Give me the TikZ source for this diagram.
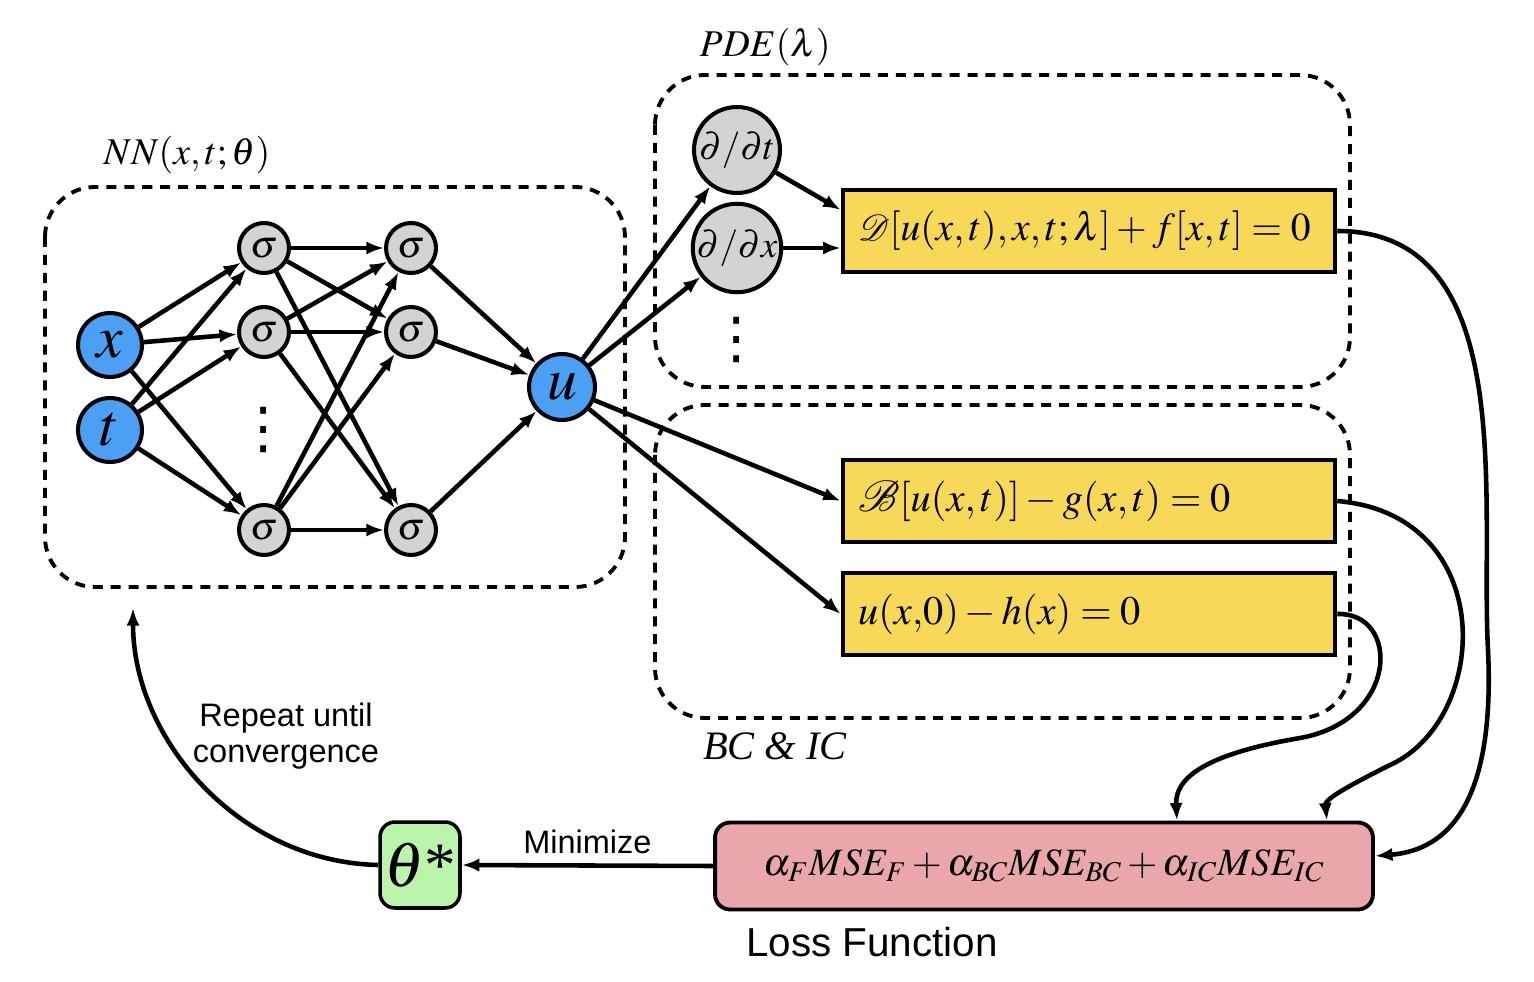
\documentclass[tikz,border=0pt]{standalone}
\usepackage{mathptmx}
\usepackage{mathrsfs}
\usepackage[no-math]{fontspec}
\setmainfont{Liberation Serif}
\newfontfamily\helv{Liberation Sans}
\newfontfamily\symf{DejaVu Sans}
\usetikzlibrary{arrows.meta}
\definecolor{nnblue}{RGB}{75,160,245}
\definecolor{nngray}{RGB}{211,211,211}
\definecolor{eqyellow}{RGB}{247,216,89}
\definecolor{losspink}{RGB}{234,167,171}
\definecolor{thetagreen}{RGB}{187,245,172}
\begin{document}
\begin{tikzpicture}[x=0.02cm, y=-0.02cm,
  link/.style={-{Latex[length=10pt,width=7.5pt]}, line width=2.6pt},
  groupbox/.style={line width=2.2pt, dash pattern=on 5.7pt off 4.5pt, rounded corners=1cm},
  grouplabel/.style={font=\fontsize{21.5}{21.5}\selectfont},
  inputnode/.style={circle, draw, fill=nnblue, line width=2.3pt, minimum size=1.28cm, inner sep=0pt, font=\fontsize{34}{34}\selectfont},
  hiddennode/.style={circle, draw, fill=nngray, line width=2.3pt, minimum size=1cm, inner sep=0pt, font=\fontsize{22}{22}\selectfont},
  derivnode/.style={circle, draw, fill=nngray, line width=2.3pt, minimum size=1.72cm, inner sep=0pt, font=\fontsize{21}{21}\selectfont},
  eqbox/.style={draw, fill=eqyellow, line width=2.6pt, minimum height=1.64cm, text width=9.24cm, inner xsep=0.3cm, align=left, font=\fontsize{23}{23}\selectfont},
  vdotsnode/.style={inner sep=0pt, font=\symf\fontsize{32}{32}\selectfont},
  sanslabel/.style={font=\helv\fontsize{18.5}{20.5}\selectfont, align=center}]
\useasboundingbox (0,0) rectangle (1534,982);
\draw[groupbox] (45,187) rectangle (625,587);
\draw[groupbox] (655,75) rectangle (1350,387);
\draw[groupbox] (655,405) rectangle (1350,718);
\node[grouplabel] (nnlabel) at (187,155) {$NN(x,t;\theta)$};
\node[grouplabel] (pdelabel) at (765,47) {$PDE(\lambda)$};
\node[grouplabel, font=\fontsize{23}{23}\selectfont] (bclabel) at (775,746) {\itshape BC \& IC};
\node[inputnode] (x) at (110,345) {$x$};
\node[inputnode] (t) at (110,430) {$t$};
\node[hiddennode] (a1) at (264,248) {$\sigma$};
\node[hiddennode] (a2) at (264,332) {$\sigma$};
\node[hiddennode] (a3) at (264,530) {$\sigma$};
\node[vdotsnode] (adots) at (264,430) {⋮};
\node[hiddennode] (b1) at (411,248) {$\sigma$};
\node[hiddennode] (b2) at (411,332) {$\sigma$};
\node[hiddennode] (b3) at (411,530) {$\sigma$};
\node[inputnode, minimum size=1.32cm] (u) at (562,387) {$u$};
\node[derivnode] (dt) at (737,150) {$\partial/\partial t$};
\node[derivnode] (dx) at (737,248) {$\partial/\partial x$};
\node[vdotsnode] (ddots) at (737,340) {⋮};
\node[eqbox, font=\fontsize{22.5}{22.5}\selectfont] (pde) at (1089,231) {$\mathscr{D}[u(x,t),x,t;\lambda]+f[x,t]=0$};
\node[eqbox] (bc) at (1089,501) {$\mathscr{B}[u(x,t)]-g(x,t)=0$};
\node[eqbox] (ic) at (1089,614) {$u(x{,}0)-h(x)=0$};
\node[draw, fill=losspink, line width=2.2pt, rounded corners=0.3cm, minimum width=13.16cm, minimum height=1.74cm, font=\fontsize{22}{22}\selectfont] (loss) at (1044,866) {$\alpha_F MSE_F+\alpha_{BC}MSE_{BC}+\alpha_{IC}MSE_{IC}$};
\node[font=\helv\fontsize{23}{23}\selectfont] (losslabel) at (872,942) {Loss Function};
\node[draw, fill=thetagreen, line width=2pt, rounded corners=0.3cm, minimum width=1.6cm, minimum height=1.72cm, inner sep=0pt, font=\fontsize{36}{36}\selectfont] (theta) at (420,865) {$\theta$*};
\node[sanslabel] (repeat) at (286,736) {Repeat until\\convergence};
\coordinate (nnfoot) at (133,608);
\draw[link] (x) -- (a1);
\draw[link] (x) -- (a2);
\draw[link] (x) -- (a3);
\draw[link] (t) -- (a1);
\draw[link] (t) -- (a2);
\draw[link] (t) -- (a3);
\draw[link] (a1) -- (b1);
\draw[link] (a1) -- (b2);
\draw[link] (a1) -- (b3);
\draw[link] (a2) -- (b1);
\draw[link] (a2) -- (b2);
\draw[link] (a2) -- (b3);
\draw[link] (a3) -- (b1);
\draw[link] (a3) -- (b2);
\draw[link] (a3) -- (b3);
\draw[link] (b1) -- (u);
\draw[link] (b2) -- (u);
\draw[link] (b3) -- (u);
\draw[link] (u) -- (dt);
\draw[link] (u) -- (dx);
\draw[link] (u) -- (bc.west);
\draw[link] (u) -- (ic.west);
\draw[link] (dt) -- ([yshift=0.42cm]pde.west);
\draw[link] (dx.east) -- (dx.east -| pde.west);
\draw[link] (pde.east) .. controls (1520,231) and (1480,500) .. (1488,650) .. controls (1495,800) and (1450,850) .. ([yshift=0.2cm]loss.east);
\draw[link] (bc.east) .. controls (1500,515) and (1490,720) .. (1390,765) .. controls (1340,790) and (1325,800) .. ([xshift=-0.96cm]loss.north east);
\draw[link] (ic.east) .. controls (1400,612) and (1400,720) .. (1300,738) .. controls (1200,755) and (1175,780) .. ([xshift=-3.96cm]loss.north east);
\draw[link] (loss.west) -- node[sanslabel, above=2pt] (minlabel) {Minimize} (theta.east);
\draw[link] (theta.west) .. controls (240,862) and (133,740) .. (nnfoot);
\end{tikzpicture}
\end{document}
